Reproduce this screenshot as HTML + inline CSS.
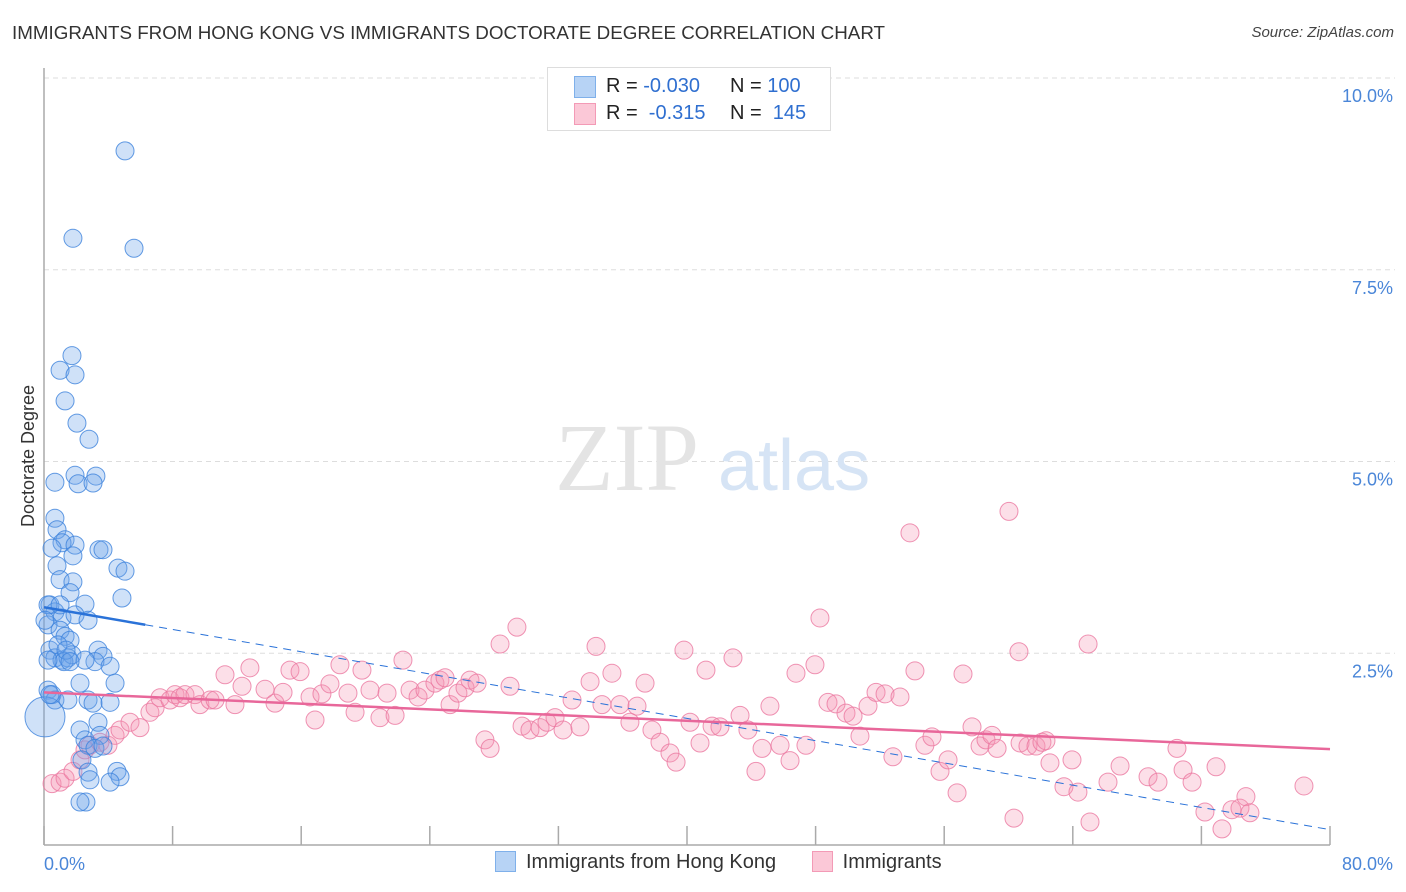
<!DOCTYPE html>
<html><head><meta charset="utf-8">
<style>
body{margin:0;background:#fff;font-family:"Liberation Sans",sans-serif;}
#wrap{position:relative;width:1406px;height:892px;overflow:hidden;}
.t{position:absolute;white-space:nowrap;}
</style></head>
<body>
<div id="wrap">
<div class="t" style="left:12px;top:22px;font-size:18.8px;color:#333;">IMMIGRANTS FROM HONG KONG VS IMMIGRANTS DOCTORATE DEGREE CORRELATION CHART</div>
<div class="t" style="right:12px;top:24px;font-size:15px;color:#444;font-style:italic;">Source: ZipAtlas.com</div>
<svg id="svg" width="1406" height="892" style="position:absolute;left:0;top:0"></svg>
</div>
<script>
const xTicks=[0,8,16,24,32,40,48,56,64,72,80];
const yTicks=[2.5,5.0,7.5,10.0];
const yTickLabels=["2.5%","5.0%","7.5%","10.0%"];
const blueX=[5.04,1.80,5.60,1.74,1.00,1.93,1.31,2.05,2.80,1.93,3.23,2.12,3.05,0.68,0.68,0.81,1.31,1.12,1.93,3.42,3.67,0.50,1.80,0.81,4.60,5.04,1.00,1.80,4.85,1.62,2.55,0.37,0.68,1.12,1.93,2.74,0.25,1.00,1.31,1.62,0.37,0.68,1.12,1.49,1.74,3.36,3.67,3.17,4.11,4.42,2.24,0.25,0.50,0.68,1.49,2.74,3.05,4.11,0.06,3.36,2.24,2.55,3.48,2.74,3.17,3.67,2.36,2.74,2.86,4.54,4.73,4.11,2.61,2.24,0.25,0.06,1.00,2.55,1.24,0.87,1.37,1.62,0.25,0.37];
const blueY=[9.05,7.91,7.78,6.38,6.19,6.13,5.79,5.50,5.29,4.82,4.81,4.71,4.72,4.73,4.26,4.11,3.98,3.94,3.91,3.85,3.85,3.87,3.77,3.64,3.61,3.57,3.46,3.43,3.22,3.29,3.14,3.13,3.04,2.96,3.00,2.93,2.87,2.80,2.72,2.67,2.54,2.44,2.41,2.44,2.48,2.54,2.46,2.39,2.33,2.11,2.11,2.02,1.96,1.89,1.89,1.89,1.85,1.86,1.67,1.60,1.50,1.37,1.43,1.30,1.26,1.29,1.11,0.95,0.85,0.96,0.89,0.82,0.56,0.56,3.13,2.93,3.13,2.41,2.39,2.61,2.54,2.39,2.41,1.96];
const pinkX=[0.50,1.00,1.31,1.80,2.24,2.55,2.86,3.48,3.98,4.42,4.73,5.35,5.97,6.59,6.91,7.22,7.84,8.15,8.46,8.77,9.39,9.70,10.33,10.64,11.26,11.88,12.32,12.81,13.75,14.37,14.87,15.30,15.93,16.55,16.86,17.29,17.79,18.41,18.91,19.35,19.78,20.28,20.90,21.34,21.84,22.33,22.77,23.27,23.70,24.32,24.63,24.95,25.26,25.75,26.19,26.50,26.94,27.43,27.75,28.37,28.99,29.42,29.74,30.23,30.86,31.29,31.79,32.29,32.85,33.34,33.97,34.34,34.71,35.33,35.83,36.45,36.89,37.39,37.82,38.32,38.94,39.32,39.81,40.19,40.81,41.18,41.56,42.05,42.86,43.30,43.79,44.29,44.67,45.16,45.79,46.41,46.78,47.40,47.96,48.27,48.77,49.27,49.89,50.33,50.76,51.26,51.76,52.32,52.81,53.25,53.87,54.18,54.80,55.24,55.74,56.24,56.80,57.17,57.73,58.23,58.60,58.97,59.29,60.03,60.34,60.65,60.72,61.21,61.71,62.08,62.33,62.58,63.45,63.95,64.32,65.07,64.95,66.19,66.94,68.68,69.30,70.48,70.86,71.42,72.91,72.22,73.28,73.90,74.40,74.77,75.02,78.38];
const pinkY=[0.80,0.82,0.87,0.96,1.11,1.24,1.30,1.34,1.30,1.43,1.50,1.60,1.53,1.73,1.79,1.92,1.89,1.96,1.92,1.96,1.96,1.83,1.89,1.89,2.22,1.83,2.07,2.31,2.03,1.85,1.99,2.28,2.26,1.93,1.63,1.97,2.10,2.35,1.98,1.73,2.28,2.02,1.66,1.98,1.69,2.41,2.02,1.93,2.02,2.11,2.15,2.18,1.83,1.98,2.05,2.15,2.11,1.37,1.26,2.62,2.07,2.84,1.55,1.50,1.53,1.60,1.66,1.50,1.89,1.54,2.13,2.59,1.83,2.24,1.83,1.60,1.81,2.11,1.50,1.34,1.20,1.08,2.54,1.60,1.33,2.28,1.55,1.54,2.44,1.69,1.50,0.96,1.26,1.81,1.30,1.10,2.24,1.30,2.35,2.96,1.86,1.84,1.72,1.68,1.42,1.81,1.99,1.97,1.15,1.93,4.07,2.27,1.30,1.41,0.96,1.11,0.68,2.23,1.54,1.29,1.37,1.43,1.26,4.35,0.35,2.52,1.33,1.29,1.29,1.34,1.36,1.07,0.76,1.11,0.69,0.30,2.62,0.82,1.03,0.89,0.82,1.26,0.98,0.82,1.02,0.43,0.21,0.46,0.48,0.63,0.42,0.77];
const blueTrend=[3.10,0.20];
const blueSolidEnd=6.3;
const pinkTrend=[1.99,1.25];

const NS="http://www.w3.org/2000/svg";
const svg=document.getElementById('svg');
const X0=44,X1=1330,Y0=845,YPER=76.7;
const sx=v=>X0+(v/80)*(X1-X0);
const sy=v=>Y0-v*YPER;
function mk(tag,attrs,parent){const e=document.createElementNS(NS,tag);for(const k in attrs)e.setAttribute(k,attrs[k]);(parent||svg).appendChild(e);return e;}

yTicks.forEach((t,i)=>{
  const g=mk('line',{x1:X0,x2:1395,y1:sy(t),y2:sy(t),stroke:'#ddd','stroke-dasharray':'5,4'});
  
  
  const tx=mk('text',{x:1393,y:sy(t)+24,'text-anchor':'end','font-size':18,fill:'#4a86d8','font-family':'Liberation Sans'});
  tx.textContent=yTickLabels[i];
  
  
});
const ya=mk('line',{x1:X0,x2:X0,y1:68,y2:Y0,stroke:'#aaa','stroke-width':1.5});


const xa=mk('line',{x1:X0,x2:X1,y1:Y0,y2:Y0,stroke:'#aaa','stroke-width':1.5});


xTicks.forEach(t=>{
  const l=mk('line',{x1:sx(t),x2:sx(t),y1:826,y2:Y0,stroke:'#aaa','stroke-width':1.5});
  
  
});
const xl0=mk('text',{x:44,y:870,'font-size':18,fill:'#4a86d8','font-family':'Liberation Sans'});xl0.textContent='0.0%';


const xl1=mk('text',{x:1393,y:870,'text-anchor':'end','font-size':18,fill:'#4a86d8','font-family':'Liberation Sans'});xl1.textContent='80.0%';


const yt=mk('text',{x:34,y:456,'text-anchor':'middle','font-size':18,fill:'#333','font-family':'Liberation Sans',transform:'rotate(-90 34 456)'});yt.textContent='Doctorate Degree';


const wm=mk('text',{x:555,y:490,'font-size':96,fill:'#e4e4e4','font-family':'Liberation Serif'});wm.textContent='ZIP';


const wm2=mk('text',{x:718,y:490,'font-size':72,fill:'#d6e4f5','font-family':'Liberation Sans'});wm2.textContent='atlas';



pinkX.forEach((x,i)=>{
  const c=mk('circle',{cx:sx(x),cy:sy(pinkY[i]),r:9,fill:'rgba(244,150,180,0.3)',stroke:'rgba(235,120,160,0.8)','stroke-width':1});
  
  
});
blueX.forEach((x,i)=>{
  const r=(i===58)?20:9;
  const c=mk('circle',{cx:sx(x),cy:sy(blueY[i]),r:r,fill:'rgba(110,165,235,0.33)',stroke:'rgba(60,130,220,0.8)','stroke-width':1});
  
  
});
const by=x=>blueTrend[0]+(blueTrend[1]-blueTrend[0])*x/80;
const bt1=mk('line',{x1:sx(0),y1:sy(by(0)),x2:sx(blueSolidEnd),y2:sy(by(blueSolidEnd)),stroke:'#2a72d8','stroke-width':2.5});


const bt2=mk('line',{x1:sx(blueSolidEnd),y1:sy(by(blueSolidEnd)),x2:sx(80),y2:sy(by(80)),stroke:'#2a72d8','stroke-width':1,'stroke-dasharray':'8,6'});


const pt=mk('line',{x1:sx(0),y1:sy(pinkTrend[0]),x2:sx(80),y2:sy(pinkTrend[1]),stroke:'#e8679a','stroke-width':2.5});


</script>
<div class="t" style="left:547px;top:67px;width:282px;height:62px;border:1px solid #ddd;background:#fff;font-size:20px;color:#222;">
  <div style="position:absolute;left:26px;top:8px;width:20px;height:20px;background:#b7d3f5;border:1px solid #7fb0ea;"></div>
  <div class="t" style="left:58px;top:7px;">R = <span style="color:#2f6fd0">-0.030</span></div>
  <div class="t" style="left:182px;top:7px;">N = <span style="color:#2f6fd0">100</span></div>
  <div style="position:absolute;left:26px;top:35px;width:20px;height:20px;background:#fbc8d7;border:1px solid #f39ab6;"></div>
  <div class="t" style="left:58px;top:34px;">R = &nbsp;<span style="color:#2f6fd0">-0.315</span></div>
  <div class="t" style="left:182px;top:34px;">N = &nbsp;<span style="color:#2f6fd0">145</span></div>
</div>
<div class="t" style="left:495px;top:851px;font-size:20px;color:#333;">
  <span style="display:inline-block;"><span style="display:inline-block;width:19px;height:19px;background:#b7d3f5;border:1px solid #7fb0ea;vertical-align:-4px;margin-right:10px;"></span>Immigrants from Hong Kong</span>
  <span style="display:inline-block;margin-left:30px;"><span style="display:inline-block;width:19px;height:19px;background:#fbc8d7;border:1px solid #f39ab6;vertical-align:-4px;margin-right:10px;"></span>Immigrants</span>
</div>
</body></html>
